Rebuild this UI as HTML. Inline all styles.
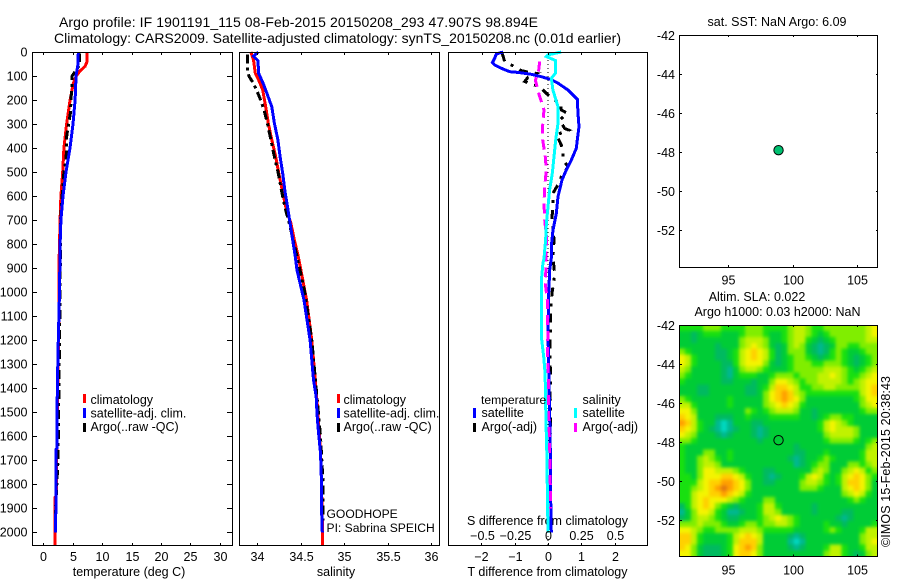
<!DOCTYPE html>
<html lang="en">
<head>
<meta charset="utf-8">
<title>Argo profile 1901191_115</title>
<style>
html,body{margin:0;padding:0;background:#fff;}
svg{display:block;}
text{font-family:"Liberation Sans",Arial,sans-serif;font-size:12.5px;fill:#000;}
.t14{font-size:14px;}
.t12{font-size:12.1px;}
</style>
</head>
<body>
<svg id="fig" xmlns="http://www.w3.org/2000/svg" width="900" height="580" viewBox="0 0 900 580">
<defs>
<clipPath id="sla-clip"><rect x="679" y="325" width="199" height="232"/></clipPath>
<filter id="sla-soften" x="-5%" y="-5%" width="110%" height="110%" color-interpolation-filters="sRGB"><feGaussianBlur stdDeviation="1.6"/></filter>
</defs>
<rect width="900" height="580" fill="#fff"/>
<text class="t14" x="59" y="27" textLength="479" lengthAdjust="spacing">Argo profile: IF 1901191_115 08-Feb-2015 20150208_293 47.907S 98.894E</text>
<text class="t14" x="54" y="43" textLength="567" lengthAdjust="spacing">Climatology: CARS2009. Satellite-adjusted climatology: synTS_20150208.nc (0.01d earlier)</text>

<text x="129" y="576" text-anchor="middle">temperature (deg C)</text>
<text x="336" y="576" text-anchor="middle">salinity</text>
<text x="547.5" y="576" text-anchor="middle">T difference from climatology</text>
<text x="547.5" y="525" text-anchor="middle">S difference from climatology</text>

<g id="series-layer"></g>
<g id="map-layer" clip-path="url(#sla-clip)">
<use href="#sla-cells"/>
<g filter="url(#sla-soften)"><g id="sla-cells"></g></g>
</g>
<g id="axis-layer"></g>

<g>
<rect x="83" y="394" width="3" height="9" fill="#f00"/>
<text x="90.5" y="404">climatology</text>
<rect x="83" y="408" width="3" height="10" fill="#00f"/>
<text x="90.5" y="417.5">satellite-adj. clim.</text>
<rect x="83" y="423" width="3" height="9" fill="#000"/>
<text x="90.5" y="431">Argo(..raw -QC)</text>
</g>
<g>
<rect x="337" y="394" width="3" height="9" fill="#f00"/>
<text x="343.5" y="404">climatology</text>
<rect x="337" y="408" width="3" height="10" fill="#00f"/>
<text x="343.5" y="417.5">satellite-adj. clim.</text>
<rect x="337" y="423" width="3" height="9" fill="#000"/>
<text x="343.5" y="431">Argo(..raw -QC)</text>
</g>
<text class="t12" x="326.5" y="518">GOODHOPE</text>
<text class="t12" x="326.5" y="532">PI: Sabrina SPEICH</text>
<g>
<text class="t12" x="481" y="404">temperature</text>
<rect x="473" y="408" width="3" height="10" fill="#00f"/>
<text x="481.5" y="417">satellite</text>
<rect x="473" y="423" width="3" height="9" fill="#000"/>
<text x="481.5" y="431">Argo(-adj)</text>
<text x="582.5" y="404">salinity</text>
<rect x="574" y="408" width="3" height="10" fill="#0ff"/>
<text x="582.5" y="417">satellite</text>
<rect x="574" y="423" width="3" height="9" fill="#f0f"/>
<text x="582.5" y="431">Argo(-adj)</text>
</g>

<text x="777" y="26" text-anchor="middle">sat. SST: NaN Argo: 6.09</text>
<text x="757" y="301" text-anchor="middle">Altim. SLA: 0.022</text>
<text x="777.5" y="316" text-anchor="middle">Argo h1000: 0.03 h2000: NaN</text>
<text transform="translate(890,547) rotate(-90)" textLength="171" lengthAdjust="spacing">©IMOS 15-Feb-2015 20:38:43</text>
</svg>
<script>
// ---------- profile data (depth in m) ----------
const depthTicks = [0,100,200,300,400,500,600,700,800,900,1000,1100,1200,1300,1400,1500,1600,1700,1800,1900,2000];
const temperatureTicks = [0,5,10,15,20,25,30];
const salinityTicks = [34,34.5,35,35.5,36];
const tempDiffTicks = [-2,-1,0,1,2];
const salDiffTicks = [-0.5,-0.25,0,0.25,0.5];
const lonTicks = [95,100,105];
const latTicks = [-42,-44,-46,-48,-50,-52];

const tempClimDepth = [0,40,60,80,100,130,200,300,400,500,600,700,850,1100,1400,1650,1850,1855,2053];
const tempClimValues = [7.45,7.45,7.1,6.2,5.6,5.1,4.55,3.97,3.5,3.3,3.0,2.85,2.7,2.65,2.45,2.3,2.2,1.95,1.95];
const tempSatDepth = [0,50,100,150,200,300,400,500,600,700,800,1000,1200,1400,1650,1655,1920,1925,2000];
const tempSatValues = [5.95,5.9,5.56,5.5,5.4,5.05,4.54,3.86,3.35,3.0,2.85,2.75,2.55,2.38,2.33,2.16,2.16,2.05,2.05];
const tempArgoDepth = [5,50,60,100,105,150,200,250,300,350,400,450,500,600,700,1000,1300,1500,1700,1900,1950];
const tempArgoValues = [6.1,6.2,6.0,4.9,4.85,4.85,4.7,4.65,4.3,3.98,3.98,3.85,3.5,3.2,2.95,2.85,2.7,2.6,2.5,2.1,2.05];

const salClimDepth = [0,33,89,117,158,228,297,366,436,505,575,644,713,783,852,908,1033,1200,1365,1500,1700,1950,2053];
const salClimValues = [33.93,33.96,33.98,34.02,34.065,34.10,34.13,34.17,34.215,34.25,34.29,34.33,34.39,34.43,34.475,34.505,34.57,34.63,34.67,34.70,34.735,34.75,34.75];
const salSatDepth = [0,17,36,89,130,158,228,297,366,436,505,575,644,713,783,852,908,1033,1200,1365,1435,1505,1574,1670,1780,1948,2000];
const salSatValues = [34.015,33.96,34.01,34.02,34.07,34.10,34.17,34.2,34.24,34.265,34.295,34.32,34.35,34.38,34.41,34.44,34.46,34.54,34.61,34.65,34.68,34.69,34.705,34.73,34.74,34.745,34.75];
const salArgoDepth = [10,80,103,130,172,207,241,297,366,436,505,575,644,713,850,1000,1200,1400,1600,1800,1950];
const salArgoValues = [33.89,33.89,33.91,33.96,34.01,34.05,34.08,34.12,34.16,34.2,34.245,34.28,34.32,34.37,34.46,34.55,34.63,34.68,34.73,34.76,34.76];

const diffTSatDepth = [0,8,26,44,54,68,82,85,93,103,114,130,158,197,255,311,366,401,450,491,533,602,672,741,810,859,908,1005,1170,1380,1657,1865,2000];
const diffTSatValues = [-1.35,-1.55,-1.6,-1.67,-1.6,-1.4,-1.15,-0.9,-0.5,-0.2,0.08,0.3,0.6,0.88,0.9,0.93,0.88,0.85,0.7,0.55,0.42,0.3,0.25,0.15,0.1,0.1,0.05,0.02,0,0.03,0.07,0.08,0.1];
const diffTArgoDepth = [3,40,58,78,85,89,105,123,135,144,172,197,214,241,255,283,318,325,345,387,419,450,477,519,547,588,644,686,783,852,928,1005,1061,1150,1220,1290,1350,1420,1490,1560,1630];
const diffTArgoValues = [-1.38,-1.3,-1.05,-0.8,-0.55,-0.35,-0.6,-0.7,-0.48,-0.25,-0.05,0.15,0.38,0.4,0.58,0.35,0.5,0.62,0.25,0.4,0.45,0.45,0.6,0.4,0.32,0.15,0.15,0.12,0.18,0.15,0.2,0.12,0.08,0.08,0.06,0.06,0.08,0.06,0.08,0.08,0.05];
const diffSSatDepth = [0,12,19,36,89,110,130,158,228,297,366,436,505,575,644,713,783,859,880,935,1198,1268,1338,1546,1643,2000];
const diffSSatValues = [0.1,0,-0.012,0.058,0.055,0.025,0.03,0.037,0.075,0.075,0.058,0.045,0.032,0.012,0,-0.012,-0.018,-0.03,-0.038,-0.047,-0.047,-0.032,-0.022,-0.015,-0.01,0];
const diffSArgoDepth = [40,75,117,151,186,241,304,366,436,491,561,630,700,769,895,964,1033,1100,1170,1240,1310,1380,1520,1643,1900];
const diffSArgoValues = [-0.0625,-0.07,-0.095,-0.08,-0.0625,-0.03,-0.04,-0.04,-0.02,-0.0125,-0.025,-0.03,-0.025,-0.012,-0.015,-0.02,-0.005,-0.005,0,-0.005,0,0.005,0.005,0.012,0.02];

const argoLon = [98.894];
const argoLat = [-47.907];

// ---------- SLA map levels, north to south (0 = teal ... 10 = dark orange) ----------
const slaRows = [
[4,4,4,4,5,5,5,4,4,4,4,5,5,5,4,4,4,4,5,6,6,5,4,4,5,5,5,5,5,5,5,6,7],
[3,3,2,3,4,4,4,3,3,3,4,5,5,5,4,3,3,4,5,6,6,5,4,3,4,5,5,5,5,5,5,6,7],
[3,3,2,3,3,3,3,3,3,3,5,6,6,6,5,3,3,4,5,6,6,4,3,2,3,4,5,5,5,5,5,6,6],
[3,3,3,3,3,3,2,3,3,3,5,6,7,6,5,3,2,3,5,6,5,3,2,1,2,3,5,5,4,4,5,5,5],
[5,4,3,3,3,3,2,2,3,4,6,7,8,7,6,4,2,3,5,5,5,3,2,1,2,4,5,4,3,3,4,5,5],
[7,6,4,3,3,3,2,2,3,4,6,7,8,7,6,4,2,3,4,5,5,4,3,2,3,4,5,4,3,2,3,4,5],
[7,6,4,3,3,3,3,2,2,4,6,7,7,7,5,3,2,3,4,5,5,5,4,4,5,5,5,4,3,2,3,4,5],
[6,5,3,3,3,3,3,2,1,3,5,6,6,5,4,3,3,3,4,5,5,5,5,5,6,6,6,5,4,3,4,5,6],
[5,4,3,3,3,3,3,2,1,3,4,4,4,3,3,4,5,5,5,4,5,5,5,6,6,7,6,5,4,4,5,6,7],
[4,3,3,3,3,3,3,2,2,3,3,3,2,3,3,5,7,7,6,5,4,5,5,6,6,6,6,5,4,5,6,7,7],
[3,3,3,2,2,3,3,3,3,3,3,2,2,3,4,6,8,8,7,6,4,4,5,5,6,6,5,5,5,5,6,7,8],
[3,3,3,2,2,3,3,3,3,3,3,2,2,3,5,7,8,9,8,6,5,4,4,4,4,4,4,4,4,4,6,7,8],
[5,4,3,3,3,3,3,3,4,3,3,3,3,3,5,7,8,9,8,7,5,3,3,3,3,3,3,3,3,4,5,7,7],
[6,6,4,3,3,3,3,3,4,3,3,3,3,3,5,6,7,8,7,6,4,3,3,3,3,3,3,3,3,3,5,6,7],
[7,7,5,3,3,3,3,3,3,3,3,5,4,3,4,5,6,6,6,5,3,3,2,3,3,3,3,3,3,3,4,5,5],
[8,7,6,3,3,3,2,2,2,3,3,4,3,3,3,4,4,4,4,4,3,3,2,3,4,5,5,4,4,3,3,3,3],
[9,8,6,4,3,3,1,0,1,3,3,3,2,2,3,3,3,3,3,3,3,3,3,4,6,7,6,5,4,3,3,3,3],
[8,7,6,4,3,2,1,0,1,2,3,3,2,1,2,3,3,3,3,3,3,3,3,4,6,7,6,6,6,5,3,3,3],
[7,6,5,3,3,3,2,1,2,3,3,3,2,1,2,3,3,3,3,3,3,3,3,3,5,6,6,6,6,5,3,3,3],
[5,5,4,3,3,3,3,3,3,3,3,3,3,2,3,3,3,3,3,3,3,3,3,3,4,5,5,5,5,4,3,4,5],
[4,3,3,3,3,3,3,3,3,3,3,3,3,3,3,3,3,3,3,2,3,3,3,3,3,3,3,3,3,3,3,5,6],
[4,3,3,3,5,5,3,3,4,3,3,3,3,3,3,3,3,3,3,2,2,3,3,3,4,3,3,3,3,3,4,6,6],
[4,3,3,5,6,5,4,3,4,3,3,3,3,3,3,3,3,3,2,1,2,3,3,4,5,4,3,3,3,3,4,6,6],
[4,3,3,5,6,6,5,3,3,3,3,3,3,3,3,3,3,3,3,1,2,3,4,5,5,3,3,3,5,5,4,5,6],
[4,3,3,5,7,7,6,6,6,5,4,3,3,3,2,2,3,3,3,3,3,3,5,6,5,3,3,5,6,7,6,4,5],
[4,4,3,5,7,7,7,8,8,7,6,4,3,3,2,1,2,3,3,3,4,6,7,6,4,3,4,6,7,8,7,5,4],
[4,4,4,6,7,8,8,9,9,8,7,5,3,3,2,2,3,3,3,3,5,6,6,5,4,3,4,6,8,8,7,5,3],
[4,4,5,6,7,8,9,10,9,8,7,5,3,3,3,3,3,3,3,3,5,5,5,4,3,3,3,6,7,8,7,5,3],
[4,4,6,7,7,8,8,9,8,7,6,4,3,3,3,3,3,3,3,3,3,3,3,3,3,3,3,5,6,7,6,4,3],
[4,4,6,7,8,7,7,7,6,5,4,3,3,3,5,5,3,3,3,3,3,3,3,3,3,3,3,3,4,5,4,3,3],
[2,4,6,7,8,7,5,4,3,2,3,3,3,4,6,6,4,3,3,3,3,3,2,3,3,3,3,3,3,3,3,3,3],
[1,3,5,7,7,6,4,3,1,1,2,3,3,4,6,6,5,3,3,3,3,3,2,3,3,3,3,2,2,3,3,3,3],
[2,3,5,6,6,5,4,3,2,2,3,3,3,4,5,6,7,6,5,4,3,3,3,3,3,3,2,1,2,3,3,3,3],
[5,5,5,6,5,5,5,4,3,3,4,5,5,4,5,5,6,6,5,4,3,3,3,3,4,3,3,2,3,3,3,3,4],
[7,7,6,5,4,4,5,5,5,5,6,6,6,5,4,4,4,4,4,3,3,3,3,3,4,5,4,3,3,3,4,6,6],
[8,8,6,4,3,3,3,3,4,6,7,8,7,6,3,3,3,3,2,1,2,3,3,3,3,3,3,3,3,3,5,6,6],
[8,8,6,4,3,3,3,3,4,6,8,8,8,6,3,3,3,3,1,0,1,3,3,3,3,3,3,3,3,3,5,6,7],
[8,7,5,3,2,2,2,3,4,7,8,9,8,5,3,3,3,3,2,1,2,3,3,3,4,6,6,4,3,3,4,6,6],
[7,7,5,3,2,2,2,3,4,7,8,8,7,5,3,3,3,3,3,3,3,3,3,3,5,6,6,4,3,2,3,5,6]
];
const slaColours = ['#00d8c0','#00b890','#00ba60','#00cc36','#18e010','#80ee00','#c0f200','#f4f400','#ffd000','#ffa000','#e07810'];

// ---------- scales ----------
const NS = 'http://www.w3.org/2000/svg';
const yDepth = d => 52 + 0.2402 * d;
const xTemp = t => 43.3 + 5.88 * t;
const xSal = s => 257 + 87 * (s - 34);
const xDiffT = v => 548 + 33.3 * v;
const xDiffS = v => 548 + 133 * v;
const xLon = lon => 728.3 + 12.9 * (lon - 95);
const yLatTop = lat => 35.3 + 19.45 * (-42 - lat);
const yLatLow = lat => 325.3 + 19.45 * (-42 - lat);

function el(tag, parent) {
  const e = document.createElementNS(NS, tag);
  parent.appendChild(e);
  return e;
}

function drawLine(parent, name, xFn, xs, depths, colour, dash) {
  const line = el('polyline', parent);
  
  
  line.setAttribute('points', depths.map((d, i) => xFn(xs[i]).toFixed(1) + ',' + yDepth(d).toFixed(1)).join(' '));
  line.setAttribute('fill', 'none');
  line.setAttribute('stroke', colour);
  line.setAttribute('stroke-width', '3');
  line.setAttribute('shape-rendering', 'crispEdges');
  if (dash) line.setAttribute('stroke-dasharray', dash);
}

function drawBox(parent, name, x0, y0, x1, y1) {
  const box = el('rect', parent);
  
  
  box.setAttribute('x', x0);
  box.setAttribute('y', y0);
  box.setAttribute('width', x1 - x0);
  box.setAttribute('height', y1 - y0);
  box.setAttribute('fill', 'none');
  box.setAttribute('stroke', '#000');
  box.setAttribute('stroke-width', '1');
  box.setAttribute('shape-rendering', 'crispEdges');
}

function drawTick(parent, name, x1, y1, x2, y2) {
  const tick = el('line', parent);
  
  
  tick.setAttribute('x1', x1);
  tick.setAttribute('y1', y1);
  tick.setAttribute('x2', x2);
  tick.setAttribute('y2', y2);
  tick.setAttribute('stroke', '#000');
  tick.setAttribute('stroke-width', '1');
  tick.setAttribute('shape-rendering', 'crispEdges');
}

function drawLabel(parent, name, x, y, anchor, str) {
  const label = el('text', parent);
  
  
  label.setAttribute('x', x);
  label.setAttribute('y', y);
  label.setAttribute('text-anchor', anchor);
  label.textContent = str;
}

const minus = v => String(v).replace('-', '\u2212');

const series = document.getElementById('series-layer');
const axes = document.getElementById('axis-layer');
const cellLayer = document.getElementById('sla-cells');

// ---------- profile series ----------
drawLine(series, 'temperature-climatology-line', xTemp, tempClimValues, tempClimDepth, '#f00');
drawLine(series, 'temperature-argo-line', xTemp, tempArgoValues, tempArgoDepth, '#000', '9 4 3 4');
drawLine(series, 'temperature-satellite-line', xTemp, tempSatValues, tempSatDepth, '#00f');

drawLine(series, 'salinity-climatology-line', xSal, salClimValues, salClimDepth, '#f00');
drawLine(series, 'salinity-argo-line', xSal, salArgoValues, salArgoDepth, '#000', '9 4 3 4');
drawLine(series, 'salinity-satellite-line', xSal, salSatValues, salSatDepth, '#00f');

const zeroLine = el('line', series);


zeroLine.setAttribute('x1', xDiffT(0));
zeroLine.setAttribute('x2', xDiffT(0));
zeroLine.setAttribute('y1', yDepth(0));
zeroLine.setAttribute('y2', 545);
zeroLine.setAttribute('stroke', '#000');
zeroLine.setAttribute('stroke-width', '1');
zeroLine.setAttribute('stroke-dasharray', '1 3');
zeroLine.setAttribute('shape-rendering', 'crispEdges');

drawLine(series, 't-difference-argo-line', xDiffT, diffTArgoValues, diffTArgoDepth, '#000', '9 7 3 7');
drawLine(series, 't-difference-satellite-line', xDiffT, diffTSatValues, diffTSatDepth, '#00f');
drawLine(series, 's-difference-argo-line', xDiffS, diffSArgoValues, diffSArgoDepth, '#f0f', '10 6');
drawLine(series, 's-difference-satellite-line', xDiffS, diffSSatValues, diffSSatDepth, '#0ff');

// ---------- SLA heatmap ----------
const mapX0 = 679, mapX1 = 877.5, mapY0 = 325, mapY1 = 556.5;
const cellW = (mapX1 - mapX0) / 33;
const cellH = (mapY1 - mapY0) / slaRows.length;
slaRows.forEach((row, r) => {
  row.forEach((v, c) => {
    const cell = el('rect', cellLayer);
    
    
    cell.setAttribute('x', (mapX0 + c * cellW).toFixed(2));
    cell.setAttribute('y', (mapY0 + r * cellH).toFixed(2));
    cell.setAttribute('width', (cellW + 0.6).toFixed(2));
    cell.setAttribute('height', (cellH + 0.6).toFixed(2));
    cell.setAttribute('fill', slaColours[Math.max(0, Math.min(10, Math.round(v)))]);
    cell.setAttribute('shape-rendering', 'crispEdges');
  });
});

// ---------- profile axes ----------
drawBox(axes, 'temperature-plot-frame', 32.5, 52.5, 232.5, 545.5);
drawBox(axes, 'salinity-plot-frame', 239.5, 52.5, 439.5, 545.5);
drawBox(axes, 'difference-plot-frame', 448.5, 52.5, 647.5, 545.5);

depthTicks.forEach(d => {
  const y = Math.round(yDepth(d)) + 0.5;
  drawTick(axes, 'depth-tick', 33, y, 37, y);
  drawTick(axes, 'depth-tick', 227, y, 232, y);
  drawLabel(axes, 'depth-tick-label', 27.5, y + 4, 'end', d);
});

temperatureTicks.forEach(t => {
  const x = Math.round(xTemp(t)) + 0.5;
  drawTick(axes, 'temperature-tick', x, 53, x, 55);
  drawTick(axes, 'temperature-tick', x, 543, x, 545);
  drawLabel(axes, 'temperature-tick-label', x, 561, 'middle', t);
});

salinityTicks.forEach(s => {
  const x = Math.round(xSal(s)) + 0.5;
  drawTick(axes, 'salinity-tick', x, 53, x, 55);
  drawTick(axes, 'salinity-tick', x, 543, x, 545);
  drawLabel(axes, 'salinity-tick-label', x, 561, 'middle', s);
});

tempDiffTicks.forEach(v => {
  const x = Math.round(xDiffT(v)) + 0.5;
  drawTick(axes, 't-difference-tick', x, 543, x, 545);
  drawLabel(axes, 't-difference-tick-label', x, 561, 'middle', minus(v));
});

salDiffTicks.forEach(v => {
  const x = Math.round(xDiffS(v)) + 0.5;
  drawTick(axes, 's-difference-tick', x, 53, x, 55);
  drawLabel(axes, 's-difference-tick-label', x, 540, 'middle', minus(v));
});

// ---------- map axes ----------
[[35, 267, yLatTop, 284.5, 'sst'], [325, 556.5, yLatLow, 574.5, 'sla']].forEach(cfg => {
  const top = cfg[0], bottom = cfg[1], yFn = cfg[2], labelY = cfg[3], key = cfg[4];
  drawBox(axes, key + '-map-frame', 679.5, top + 0.5, 877.5, Math.floor(bottom) + 0.5);
  lonTicks.forEach(lon => {
    const x = Math.round(xLon(lon)) + 0.5;
    drawTick(axes, key + '-longitude-tick', x, top, x, top + 2);
    drawTick(axes, key + '-longitude-tick', x, bottom - 2, x, bottom);
    drawLabel(axes, key + '-longitude-tick-label', x, labelY, 'middle', lon);
  });
  latTicks.forEach(lat => {
    const y = Math.round(yFn(lat)) + 0.5;
    drawTick(axes, key + '-latitude-tick', 680, y, 682, y);
    drawTick(axes, key + '-latitude-tick', 876, y, 878, y);
    drawLabel(axes, key + '-latitude-tick-label', 675, y + 4.5, 'end', lat);
  });
});

// ---------- float position markers ----------
const sstMarker = el('circle', axes);


sstMarker.setAttribute('cx', xLon(argoLon[0]));
sstMarker.setAttribute('cy', yLatTop(argoLat[0]));
sstMarker.setAttribute('r', 4.7);
sstMarker.setAttribute('fill', '#00c070');
sstMarker.setAttribute('stroke', '#000');
sstMarker.setAttribute('stroke-width', '1');

const slaMarker = el('circle', axes);


slaMarker.setAttribute('cx', xLon(argoLon[0]));
slaMarker.setAttribute('cy', yLatLow(argoLat[0]));
slaMarker.setAttribute('r', 4.7);
slaMarker.setAttribute('fill', 'none');
slaMarker.setAttribute('stroke', '#000');
slaMarker.setAttribute('stroke-width', '1');
</script>
</body>
</html>
